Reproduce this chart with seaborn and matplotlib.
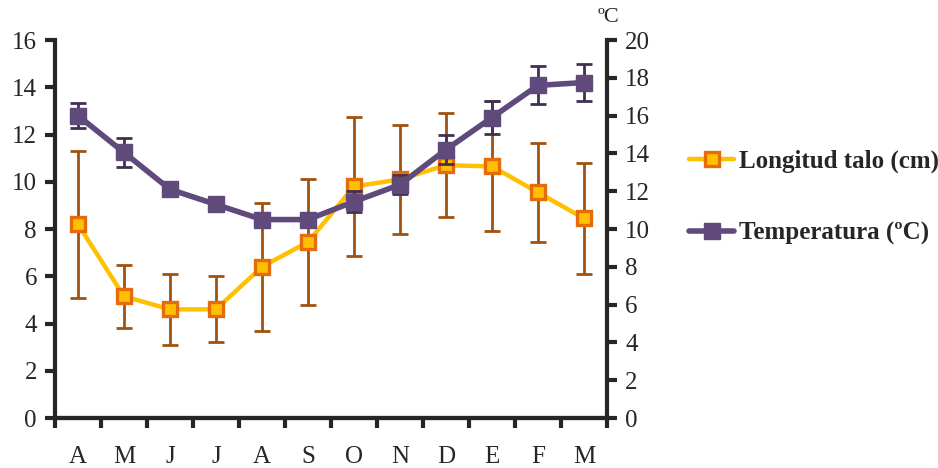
import matplotlib
matplotlib.use("Agg")
import matplotlib.pyplot as plt
import seaborn as sns
import pandas as pd
import numpy as np

months = ["A", "M", "J", "J", "A", "S", "O", "N", "D", "E", "F", "M"]
longitud = [8.2, 5.15, 4.6, 4.6, 6.4, 7.45, 9.8, 10.1, 10.7, 10.65, 9.55, 8.45]
longitud_err = [3.1, 1.33, 1.5, 1.4, 2.7, 2.65, 2.95, 2.3, 2.2, 2.75, 2.1, 2.35]
temperatura = [16.0, 14.05, 12.1, 11.3, 10.5, 10.5, 11.45, 12.35, 14.2, 15.9, 17.6, 17.75]
temperatura_err = [0.68, 0.75, 0.3, 0.15, 0.15, 0.15, 0.55, 0.5, 0.75, 0.85, 1.0, 1.0]
left_ticks = [0, 2, 4, 6, 8, 10, 12, 14, 16]
right_ticks = [0, 2, 4, 6, 8, 10, 12, 14, 16, 18, 20]

sns.set_style("ticks")
plt.rcParams["font.family"] = ["Liberation Serif", "DejaVu Serif"]

pos = np.arange(len(months))
df = pd.DataFrame({"x": pos, "longitud": longitud, "temperatura": temperatura})

fig = plt.figure(figsize=(9.38, 4.68), dpi=100)
ax = fig.add_axes([0.0586, 0.1068, 0.5885, 0.8077])
ax2 = ax.twinx()

YEL = "#FFC000"
ORG = "#E46C0A"
BRN = "#A0520F"
PUR = "#604A7B"
DPUR = "#403152"

ax.errorbar(pos, longitud, yerr=longitud_err, fmt="none", ecolor=BRN,
            elinewidth=2, capsize=6, capthick=2, zorder=2)
sns.lineplot(data=df, x="x", y="longitud", ax=ax, color=YEL, linewidth=3.2,
             marker="s", markersize=10.5, markerfacecolor=YEL,
             markeredgecolor=ORG, markeredgewidth=2.4, zorder=3,
             label="Longitud talo (cm)", legend=False)

ax2.errorbar(pos, temperatura, yerr=temperatura_err, fmt="none", ecolor=DPUR,
             elinewidth=2, capsize=6, capthick=2, zorder=2)
sns.lineplot(data=df, x="x", y="temperatura", ax=ax2, color=PUR, linewidth=4,
             marker="s", markersize=11.5, markerfacecolor=PUR,
             markeredgecolor=PUR, markeredgewidth=1, zorder=3,
             label="Temperatura (ºC)", legend=False)

ax.set_xlim(-0.5, len(months) - 0.5)
ax.set_ylim(0, 16)
ax2.set_ylim(0, 20)
ax.set_yticks(left_ticks)
ax2.set_yticks(right_ticks)
ax.set_xticks(np.arange(-0.5, len(months), 1.0))
ax.set_xticklabels([])
ax.set_xticks(pos, minor=True)
ax.set_xticklabels(months, minor=True)
ax.tick_params(axis="x", which="minor", length=0, labelsize=18, pad=20)
ax.tick_params(axis="x", which="major", length=7, width=3, direction="out")
ax.tick_params(axis="y", length=7, width=3, labelsize=18, pad=6)
ax2.tick_params(axis="y", length=7, width=3, labelsize=18, pad=6)
ax.set_xlabel("")
ax.set_ylabel("")
ax2.set_ylabel("")

for a in (ax, ax2):
    for s in a.spines.values():
        s.set_linewidth(3)
    a.spines["top"].set_visible(False)
ax.spines["right"].set_visible(False)
ax2.spines["left"].set_visible(False)

fig.text(0.637, 0.962, "ºC", fontsize=16, ha="left", va="center")

h1, l1 = ax.get_legend_handles_labels()
h2, l2 = ax2.get_legend_handles_labels()
fig.legend(h1 + h2, l1 + l2, loc="center left", bbox_to_anchor=(0.735, 0.578),
           frameon=False, prop={"weight": "bold", "size": 18},
           labelspacing=1.95, handlelength=1.8, handletextpad=0.2,
           borderaxespad=0, borderpad=0)

fig.savefig("out.png", dpi=100)
